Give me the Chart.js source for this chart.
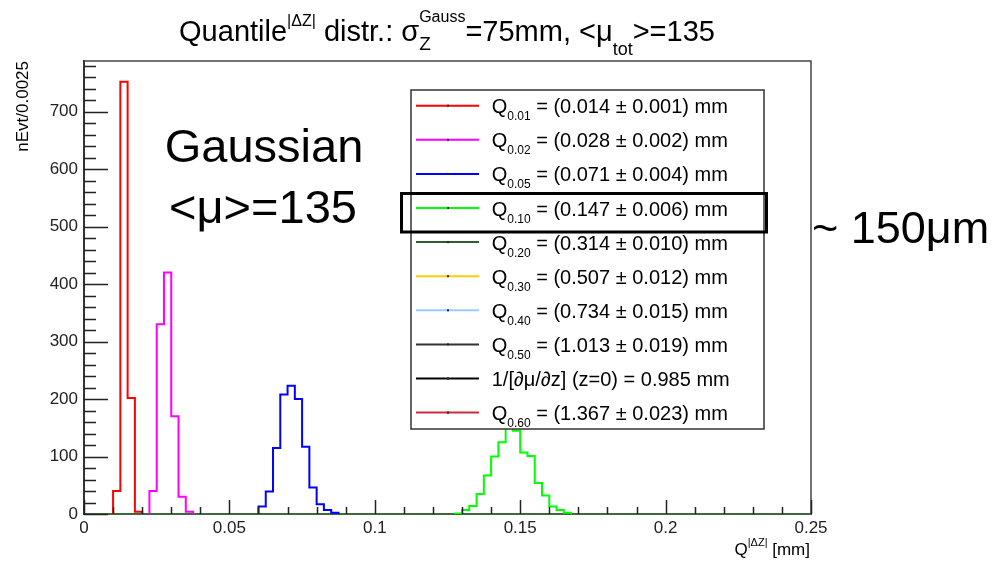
<!DOCTYPE html>
<html>
<head>
    <title>Quantile distr.</title>
    <script src="https://cdn.jsdelivr.net/npm/chart.js"></script>
    <style>
        body { margin: 0; background: #fff; }
    </style>
</head>
<body>
    <canvas id="quantiles" width="996" height="563"></canvas>

    <script>
        // Histogramas de |dZ|, bines de 0.0025 mm
        const binWidth = 0.0025;

        const q01Start = 0.01;
        const q01Counts = [40, 752, 202, 4];

        const q02Start = 0.0225;
        const q02Counts = [40, 330, 420, 170, 30, 4];

        const q05Start = 0.06;
        const q05Counts = [13, 39, 115, 208, 223, 200, 117, 46, 17, 7, 2];

        const q10Start = 0.1275;
        const q10Counts = [1, 7, 14, 35, 67, 100, 125, 165, 145, 107, 101, 54, 32, 13, 7, 2];

        // Ejes
        const xTicks = [0, 0.05, 0.1, 0.15, 0.2, 0.25];
        const yTicks = [0, 100, 200, 300, 400, 500, 600, 700];
        const yMax = 788;

        // Leyenda
        const legendSubs = ['0.01', '0.02', '0.05', '0.10', '0.20', '0.30', '0.40', '0.50', null, '0.60'];
        const legendTexts = [
            ' = (0.014 \u00b1 0.001) mm',
            ' = (0.028 \u00b1 0.002) mm',
            ' = (0.071 \u00b1 0.004) mm',
            ' = (0.147 \u00b1 0.006) mm',
            ' = (0.314 \u00b1 0.010) mm',
            ' = (0.507 \u00b1 0.012) mm',
            ' = (0.734 \u00b1 0.015) mm',
            ' = (1.013 \u00b1 0.019) mm',
            '1/[\u2202\u03bc/\u2202z] (z=0) = 0.985 mm',
            ' = (1.367 \u00b1 0.023) mm'
        ];
        const legendColors = ['#ff0000', '#ff00ff', '#0000ff', '#00ff00', '#2f5f2f',
                              '#ffcc00', '#99ccff', '#333333', '#000000', '#cc2b3b'];

        const FONT = '"Liberation Sans", Arial, sans-serif';

        // puntos para dibujar el contorno escalonado de un histograma
        function histPoints(start, counts) {
            const pts = [{ x: start, y: 0 }];
            counts.forEach((c, i) => pts.push({ x: start + i * binWidth, y: c }));
            pts.push({ x: start + counts.length * binWidth, y: 0 });
            return pts;
        }

        function histDataset(start, counts, color) {
            return {
                data: histPoints(start, counts),
                borderColor: color,
                borderWidth: 2,
                stepped: 'before',
                pointRadius: 0,
                fill: false
            };
        }

        // texto con subindices / superindices
        function drawRich(ctx, segs, x, y, align) {
            const widthOf = seg => {
                ctx.font = seg.s + 'px ' + FONT;
                let w = ctx.measureText(seg.t).width;
                if (seg.under) {
                    ctx.font = seg.under.s + 'px ' + FONT;
                    w = Math.max(w, ctx.measureText(seg.under.t).width);
                }
                return w;
            };
            const total = segs.reduce((acc, s) => acc + widthOf(s), 0);
            let cx = align === 'center' ? x - total / 2 : align === 'right' ? x - total : x;
            ctx.textAlign = 'left';
            ctx.textBaseline = 'alphabetic';
            segs.forEach(seg => {
                const w = widthOf(seg);
                ctx.font = seg.s + 'px ' + FONT;
                ctx.fillText(seg.t, cx, y + (seg.dy || 0));
                if (seg.under) {
                    ctx.font = seg.under.s + 'px ' + FONT;
                    ctx.fillText(seg.under.t, cx, y + (seg.under.dy || 0));
                }
                cx += w;
            });
        }

        const marcoPlugin = {
            id: 'marco',
            afterDatasetsDraw(chart) {
                const ctx = chart.ctx;
                const area = chart.chartArea;
                const xs = chart.scales.x;
                const ys = chart.scales.y;

                ctx.save();
                // marco superior y derecho
                ctx.strokeStyle = '#444';
                ctx.lineWidth = 1.5;
                ctx.beginPath();
                ctx.moveTo(area.left, area.top);
                ctx.lineTo(area.right, area.top);
                ctx.lineTo(area.right, area.bottom);
                ctx.stroke();

                // marcas interiores de los ejes
                ctx.strokeStyle = '#222';
                ctx.lineWidth = 1.5;
                ctx.beginPath();
                for (let v = 0; v <= yMax; v += 20) {
                    const py = Math.round(ys.getPixelForValue(v)) + 0.5;
                    const len = v % 100 === 0 ? 24 : 12;
                    ctx.moveTo(area.left, py);
                    ctx.lineTo(area.left + len, py);
                }
                for (let i = 0; i <= 25; i++) {
                    const px = Math.round(xs.getPixelForValue(i * 0.01)) + 0.5;
                    const len = i % 5 === 0 ? 14 : 7;
                    ctx.moveTo(px, area.bottom);
                    ctx.lineTo(px, area.bottom - len);
                }
                ctx.stroke();

                // leyenda
                const lx = 411, ly = 90, lw = 353, lh = 339;
                ctx.fillStyle = '#fff';
                ctx.fillRect(lx, ly, lw, lh);
                ctx.strokeStyle = '#333';
                ctx.lineWidth = 1.5;
                ctx.strokeRect(lx, ly, lw, lh);

                legendTexts.forEach((txt, i) => {
                    const rowY = 105.7 + i * 34.1;
                    ctx.strokeStyle = legendColors[i];
                    ctx.lineWidth = 2;
                    ctx.beginPath();
                    ctx.moveTo(416, rowY);
                    ctx.lineTo(479, rowY);
                    ctx.stroke();
                    ctx.fillStyle = '#222';
                    ctx.fillRect(447, rowY - 1, 2, 2);

                    ctx.fillStyle = '#000';
                    const segs = legendSubs[i]
                        ? [{ t: 'Q', s: 20 }, { t: legendSubs[i], s: 12, dy: 7 }, { t: txt, s: 20 }]
                        : [{ t: txt, s: 20 }];
                    drawRich(ctx, segs, 491.7, rowY + 7.5, 'left');
                });

                // recuadro del cuantil 0.10
                ctx.strokeStyle = '#000';
                ctx.lineWidth = 3;
                ctx.strokeRect(401.5, 193.5, 365, 38.5);
                ctx.restore();
            },
            afterDraw(chart) {
                const ctx = chart.ctx;
                ctx.save();
                ctx.fillStyle = '#000';

                // titulo
                drawRich(ctx, [
                    { t: 'Quantile', s: 29 },
                    { t: '|\u0394Z|', s: 16, dy: -15 },
                    { t: ' distr.: \u03c3', s: 29 },
                    { t: 'Gauss', s: 16, dy: -19, under: { t: 'Z', s: 19, dy: 9 } },
                    { t: '=75mm, <\u03bc', s: 29 },
                    { t: 'tot', s: 18, dy: 14 },
                    { t: '>=135', s: 29 }
                ], 447, 41, 'center');

                // titulo eje X
                drawRich(ctx, [
                    { t: 'Q', s: 17 },
                    { t: '|\u0394Z|', s: 11, dy: -9 },
                    { t: ' [mm]', s: 17 }
                ], 810, 555, 'right');

                // titulo eje Y
                ctx.save();
                ctx.translate(23, 61);
                ctx.rotate(-Math.PI / 2);
                ctx.font = '17px ' + FONT;
                ctx.textAlign = 'right';
                ctx.textBaseline = 'middle';
                ctx.fillText('nEvt/0.0025', 0, 0);
                ctx.restore();

                // anotaciones
                ctx.font = '47px ' + FONT;
                ctx.textAlign = 'center';
                ctx.textBaseline = 'alphabetic';
                ctx.fillText('Gaussian', 264, 162);
                ctx.fillText('<\u03bc>=135', 263, 223);
                ctx.font = '45px ' + FONT;
                ctx.textAlign = 'left';
                ctx.fillText('~ 150\u03bcm', 812, 243);
                ctx.restore();
            }
        };

        new Chart(document.getElementById('quantiles').getContext('2d'), {
            type: 'line',
            data: {
                datasets: [
                    histDataset(q01Start, q01Counts, '#ff0000'),
                    histDataset(q02Start, q02Counts, '#ff00ff'),
                    histDataset(q05Start, q05Counts, '#0000ff'),
                    histDataset(q10Start, q10Counts, '#00ff00')
                ]
            },
            options: {
                responsive: false,
                animation: false,
                devicePixelRatio: 1,
                layout: { padding: { left: 0, right: 185, top: 61, bottom: 0 } },
                plugins: {
                    legend: { display: false },
                    tooltip: { enabled: false }
                },
                scales: {
                    x: {
                        type: 'linear',
                        min: 0,
                        max: 0.25,
                        afterFit: s => { s.height = 49; },
                        afterBuildTicks: s => { s.ticks = xTicks.map(v => ({ value: v })); },
                        ticks: {
                            padding: 4,
                            maxRotation: 0,
                            autoSkip: false,
                            color: '#222',
                            font: { family: FONT, size: 17 },
                            callback: v => String(+v.toFixed(3))
                        },
                        grid: { display: false, drawTicks: false },
                        border: { display: true, color: '#3d6a3d', width: 2 }
                    },
                    y: {
                        min: 0,
                        max: yMax,
                        afterFit: s => { s.width = 84; },
                        afterBuildTicks: s => { s.ticks = yTicks.map(v => ({ value: v })); },
                        ticks: {
                            padding: 6,
                            color: '#222',
                            font: { family: FONT, size: 17 },
                            callback: v => String(v)
                        },
                        grid: { display: false, drawTicks: false },
                        border: { display: true, color: '#333', width: 2 }
                    }
                }
            },
            plugins: [marcoPlugin]
        });
    </script>
</body>
</html>
